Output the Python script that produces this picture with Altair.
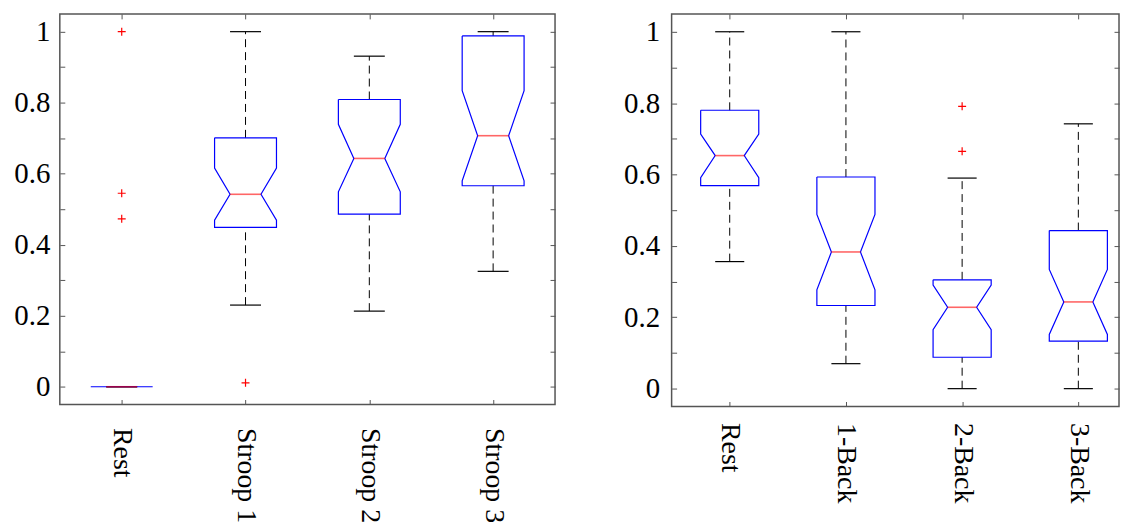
import json
import altair as alt
import pandas as pd

# ---------------- data ----------------
cats_left = ["Rest", "Stroop 1", "Stroop 2", "Stroop 3"]
wlo_left = [0.0, 0.230, 0.213, 0.325]
q1_left = [0.0, 0.449, 0.486, 0.566]
nlo_left = [0.0, 0.469, 0.549, 0.580]
med_left = [0.0, 0.542, 0.643, 0.707]
nhi_left = [0.0, 0.616, 0.739, 0.834]
q3_left = [0.0, 0.701, 0.809, 0.988]
whi_left = [0.0, 1.0, 0.931, 1.0]
out_cat_left = ["Rest", "Rest", "Rest", "Stroop 1"]
out_val_left = [1.0, 0.545, 0.473, 0.011]

cats_right = ["Rest", "1-Back", "2-Back", "3-Back"]
wlo_right = [0.356, 0.070, 0.0, 0.0]
q1_right = [0.569, 0.233, 0.088, 0.133]
nlo_right = [0.591, 0.277, 0.165, 0.152]
med_right = [0.653, 0.383, 0.228, 0.243]
nhi_right = [0.713, 0.488, 0.290, 0.334]
q3_right = [0.780, 0.593, 0.305, 0.443]
whi_right = [1.0, 1.0, 0.590, 0.742]
out_cat_right = ["2-Back", "2-Back"]
out_val_right = [0.791, 0.665]

y_ticks = [0, 0.1, 0.2, 0.3, 0.4, 0.5, 0.6, 0.7, 0.8, 0.9, 1.0]

# ---------------- style ----------------
FONT = "Liberation Serif, Times New Roman, serif"
FS_Y = 29
FS_X = 28
FRAME = "#555555"
BOX_HALF = 0.25     # half box width (in category units)
NOTCH_HALF = 0.125  # half notch width
PLUS = "M-1,0L1,0M0,-1L0,1"


def panel(cats, wlo, q1, nlo, med, nhi, q3, whi, out_cat, out_val,
          width, height, xmax, xpad, ypad):
    n = len(cats)
    stats = pd.DataFrame({"idx": list(range(n)), "cat": cats, "wlo": wlo, "q1": q1,
                          "nlo": nlo, "med": med, "nhi": nhi, "q3": q3, "whi": whi})
    shape = [(-BOX_HALF, "q3"), (BOX_HALF, "q3"), (BOX_HALF, "nhi"), (NOTCH_HALF, "med"),
             (BOX_HALF, "nlo"), (BOX_HALF, "q1"), (-BOX_HALF, "q1"), (-BOX_HALF, "nlo"),
             (-NOTCH_HALF, "med"), (-BOX_HALF, "nhi"), (-BOX_HALF, "q3")]
    rows = []
    for i in range(n):
        for k, (dx, key) in enumerate(shape):
            rows.append({"idx": i, "k": k, "px": i + dx, "py": stats[key][i]})
    verts = pd.DataFrame(rows)
    outl = pd.DataFrame({"idx": [cats.index(c) for c in out_cat], "v": out_val})

    xscale = alt.Scale(domain=[-0.5, xmax], nice=False, zero=False)
    yscale = alt.Scale(domain=[-0.05, 1.05], nice=False, zero=False)
    names = json.dumps(cats)
    common = dict(offset=-5, tickSize=5, domain=False, grid=False, title=None,
                  tickColor=FRAME, tickWidth=1, minExtent=0)
    x_bottom = alt.Axis(orient="bottom", values=list(range(n)),
                        labelExpr=f"{names}[round(datum.value)]",
                        labelAngle=90, labelAlign="left", labelBaseline="middle",
                        labelFont=FONT, labelFontSize=FS_X, labelColor="black",
                        labelPadding=xpad, **common)
    x_top = alt.Axis(orient="top", values=list(range(n)), labels=False, **common)
    y_left = alt.Axis(orient="left", values=y_ticks,
                      labelExpr="round(datum.value*10) % 2 == 0 ? toString(round(datum.value*10)/10) : ''",
                      labelFont=FONT, labelFontSize=FS_Y, labelColor="black",
                      labelPadding=ypad, **common)
    y_right = alt.Axis(orient="right", values=y_ticks, labels=False, **common)

    base = alt.Chart(stats)
    calc = dict(xa=f"datum.idx - {NOTCH_HALF}", xb=f"datum.idx + {NOTCH_HALF}")
    upper = base.mark_rule(color="black", strokeWidth=1, strokeDash=[8, 5]).encode(
        x=alt.X("idx:Q", scale=xscale, axis=None),
        y=alt.Y("q3:Q", scale=yscale, axis=None), y2="whi:Q")
    lower = base.mark_rule(color="black", strokeWidth=1, strokeDash=[8, 5]).encode(
        x=alt.X("idx:Q", scale=xscale, axis=None),
        y=alt.Y("wlo:Q", scale=yscale, axis=None), y2="q1:Q")
    caps_hi = base.transform_calculate(**calc).mark_rule(color="black", strokeWidth=1.2).encode(
        x=alt.X("xa:Q", scale=xscale, axis=None), x2="xb:Q",
        y=alt.Y("whi:Q", scale=yscale, axis=None))
    caps_lo = base.transform_calculate(**calc).mark_rule(color="black", strokeWidth=1.2).encode(
        x=alt.X("xa:Q", scale=xscale, axis=None), x2="xb:Q",
        y=alt.Y("wlo:Q", scale=yscale, axis=None))
    box = alt.Chart(verts).mark_line(color="#0000ff", strokeWidth=1.2).encode(
        x=alt.X("px:Q", scale=xscale, axis=x_bottom),
        y=alt.Y("py:Q", scale=yscale, axis=y_left),
        order="k:Q", detail="idx:N")
    median = base.transform_calculate(**calc).mark_rule(
        color="#ff0000", strokeWidth=1.6, opacity=0.6).encode(
        x=alt.X("xa:Q", scale=xscale, axis=x_top), x2="xb:Q",
        y=alt.Y("med:Q", scale=yscale, axis=y_right))
    pts = alt.Chart(outl).mark_point(shape=PLUS, size=64, filled=False,
                                     color="#ff0000", strokeWidth=1.2, opacity=1).encode(
        x=alt.X("idx:Q", scale=xscale, axis=None),
        y=alt.Y("v:Q", scale=yscale, axis=None))
    return alt.layer(upper, lower, caps_hi, caps_lo, box, median, pts).resolve_axis(
        x="independent", y="independent").properties(width=width, height=height)


left = panel(cats_left, wlo_left, q1_left, nlo_left, med_left, nhi_left, q3_left,
             whi_left, out_cat_left, out_val_left, 497, 392, 3.5, 23, 10)
right = panel(cats_right, wlo_right, q1_right, nlo_right, med_right, nhi_right, q3_right,
              whi_right, out_cat_right, out_val_right, 449, 394, 3.35, 16, 12)

chart = alt.hconcat(left, right, spacing=66).properties(
    padding={"left": 5, "top": 3, "right": 0, "bottom": 0}
).configure_view(stroke=FRAME, strokeWidth=1.5)

chart.save("out.html", embed_options={"renderer": "svg", "actions": False})
